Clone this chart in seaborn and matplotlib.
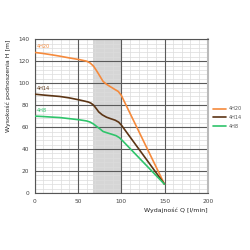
import matplotlib
matplotlib.use("Agg")
import matplotlib.pyplot as plt
import seaborn as sns
import pandas as pd
from matplotlib.ticker import MultipleLocator
from matplotlib.lines import Line2D

# Data
q_4h20 = [0, 10, 20, 29, 40, 52, 60, 64, 68, 72, 76, 79, 83, 87, 92, 96.5, 100, 150]
h_4h20 = [128, 127, 125.8, 124.6, 123, 121.4, 120, 118.4, 115.5, 110.7, 105.5, 101.6, 99, 97, 94.6, 92.5, 89, 8]
q_4h14 = [0, 10, 20, 29, 40, 50, 58, 62, 65, 68, 71, 74, 78, 83, 88, 93, 97, 100, 150]
h_4h14 = [90, 89.2, 88.5, 87.9, 86.6, 85, 83.6, 82.8, 81.8, 80, 77, 73.8, 71.2, 69, 67.6, 66.3, 64.5, 62, 8]
q_4h8 = [0, 10, 20, 29, 40, 52, 60, 64, 68, 72, 76, 79, 84, 89, 94, 98, 101, 150]
h_4h8 = [70, 69.6, 69.1, 68.7, 67.7, 66.6, 65.6, 64.6, 62.8, 60.3, 58, 56, 54.7, 53.5, 52.2, 50.3, 48, 8]
series = ["4H20", "4H14", "4H8"]
colors = ["#f58a3c", "#5c3515", "#2fc46b"]
shade = (67, 100)
xticks = [0, 50, 100, 150, 200]
yticks = [0, 20, 40, 60, 80, 100, 120, 140]

qs = [q_4h20, q_4h14, q_4h8]
hs = [h_4h20, h_4h14, h_4h8]
df = pd.concat([
    pd.DataFrame({"Q": qq, "H": hh, "model": name})
    for name, qq, hh in zip(series, qs, hs)
])

sns.set_style("white")
plt.rcParams["font.family"] = ["DejaVu Sans"]

fig = plt.figure(figsize=(2.5, 2.5), dpi=100)
ax = fig.add_axes([0.139, 0.228, 0.692, 0.615])

ax.axvspan(*shade, color="#d6d6d6", zorder=0, lw=0)

ax.set_xlim(0, 200)
ax.set_ylim(0, 140)
ax.set_xticks(xticks)
ax.set_yticks(yticks)
ax.xaxis.set_minor_locator(MultipleLocator(10))
ax.yaxis.set_minor_locator(MultipleLocator(4))
ax.grid(which="minor", color="#dcdcdc", lw=0.5, ls="-")
ax.grid(which="major", visible=False)
ax.set_axisbelow(True)
for xv in xticks:
    ax.axvline(xv, color="#5a5a5a", lw=0.8, zorder=1)
for yv in yticks:
    ax.axhline(yv, color="#5a5a5a", lw=0.8, zorder=1)

sns.lineplot(data=df, x="Q", y="H", hue="model", palette=colors,
             hue_order=series, ax=ax, lw=1.2, legend=False, zorder=3,
             sort=False, estimator=None)

for name, hh, c in zip(series, hs, colors):
    ax.text(2, hh[0] + 3, name, color=c, fontsize=3.6, ha="left", va="bottom")

for side in ["left", "bottom", "top"]:
    ax.spines[side].set_color("#555555")
    ax.spines[side].set_linewidth(0.8)
ax.spines["right"].set_color("#bbbbbb")
ax.spines["right"].set_linewidth(1.5)

ax.tick_params(which="major", length=2, width=0.5, color="#888888",
               labelsize=4.2, labelcolor="#444444", pad=2)
ax.tick_params(which="minor", length=0)

ax.set_xlabel("Wydajność Q [l/min]", fontsize=4.5, color="#222222",
              loc="right", labelpad=3)
ax.set_ylabel("Wysokość podnoszenia H [m]", fontsize=4.5, color="#222222",
              loc="top", labelpad=5)

handles = [Line2D([0], [0], color=c, lw=1.2) for c in colors]
fig.legend(handles, series, loc="center left", bbox_to_anchor=(0.835, 0.53),
           frameon=False, fontsize=3.6, labelcolor="#555555",
           handlelength=2.6, handletextpad=0.5, labelspacing=0.7)

fig.savefig("out.png", dpi=100)
